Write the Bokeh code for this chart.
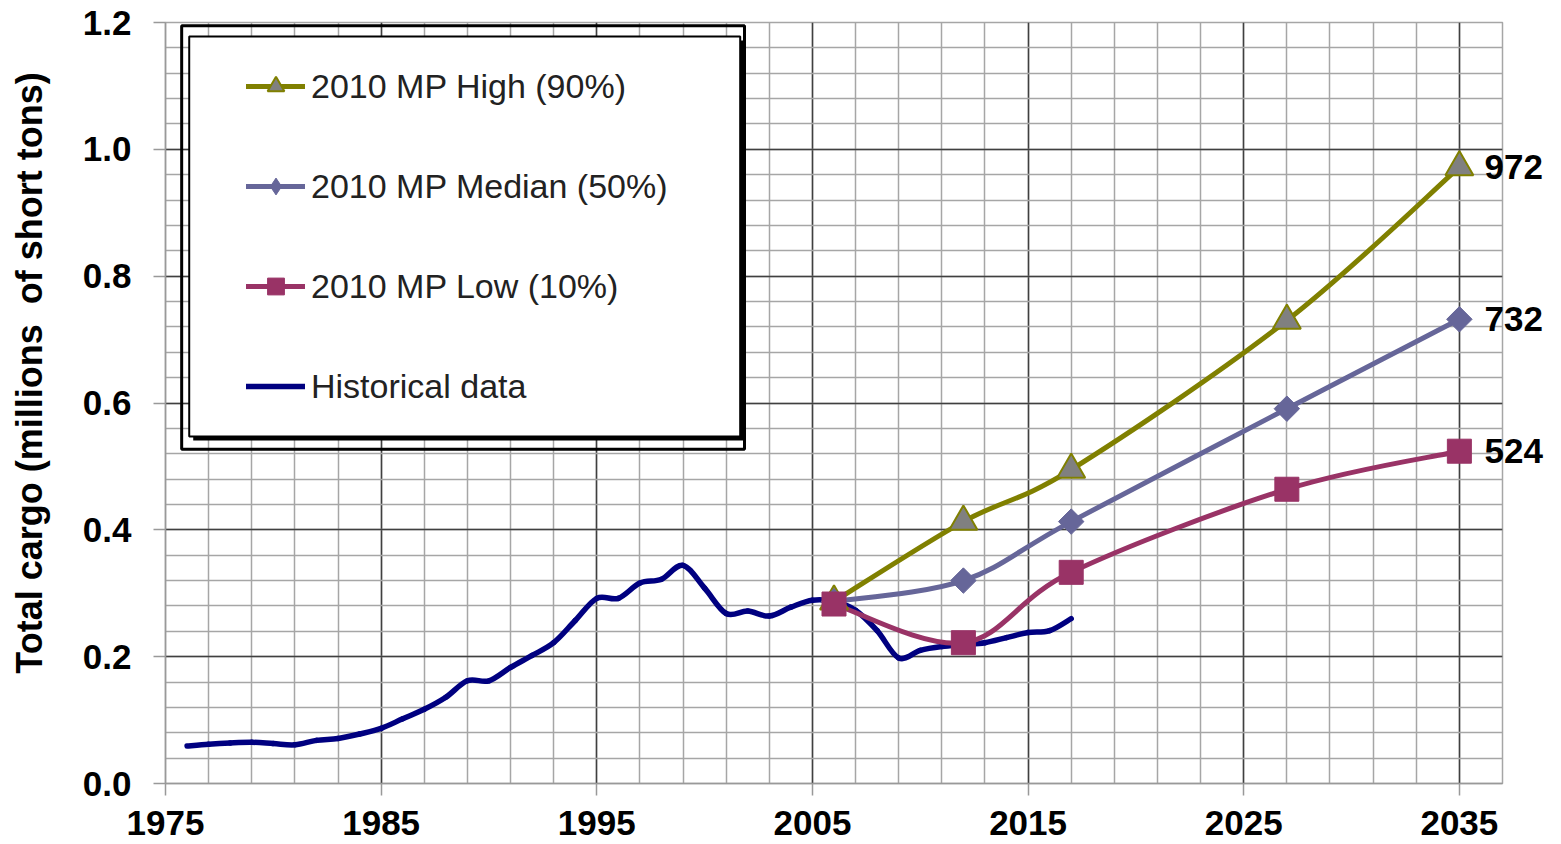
import numpy as np
from bokeh.plotting import figure
from bokeh.models import (Range1d, FixedTicker, NumeralTickFormatter, Legend,
                          LegendItem, BoxAnnotation, LinearAxis)
from bokeh.embed import file_html
from bokeh.resources import INLINE

# ---------------- data ----------------
hist_years = list(range(1976, 2018))
hist_values = [0.059, 0.062, 0.064, 0.065, 0.063, 0.061, 0.068, 0.071, 0.078, 0.087,
               0.102, 0.117, 0.136, 0.162, 0.162, 0.183, 0.202, 0.222, 0.257, 0.292,
               0.292, 0.316, 0.322, 0.344, 0.308, 0.268, 0.272, 0.264, 0.278, 0.289,
               0.287, 0.273, 0.241, 0.198, 0.210, 0.216, 0.219, 0.222, 0.230, 0.238,
               0.241, 0.260]
proj_years = [2006, 2012, 2017, 2027, 2035]
high_values = [0.287, 0.413, 0.495, 0.730, 0.972]
median_values = [0.287, 0.320, 0.413, 0.591, 0.732]
low_values = [0.283, 0.222, 0.333, 0.464, 0.524]

series_names = ["2010 MP High (90%)", "2010 MP Median (50%)", "2010 MP Low (10%)", "Historical data"]
x_major_ticks = [1975, 1985, 1995, 2005, 2015, 2025, 2035]
x_minor_ticks = list(range(1975, 2038, 2))
y_major_ticks = [0.0, 0.2, 0.4, 0.6, 0.8, 1.0, 1.2]
y_minor_ticks = [round(i * 0.04, 2) for i in range(31)]
y_title = "Total cargo (millions\u00a0 of short tons)"

FONT = "Liberation Sans"


def smooth_segments(xs, ys):
    """Catmull-Rom style cubic Bezier segments through the data points (Excel 'smoothed line')."""
    x = np.asarray(xs, float)
    y = np.asarray(ys, float)
    n = len(x)
    xp = np.concatenate([[x[0]], x, [x[-1]]])
    yp = np.concatenate([[y[0]], y, [y[-1]]])
    cx0 = xp[1:n] + (xp[2:n + 1] - xp[0:n - 1]) / 6
    cy0 = yp[1:n] + (yp[2:n + 1] - yp[0:n - 1]) / 6
    cx1 = xp[2:n + 1] - (xp[3:n + 2] - xp[1:n]) / 6
    cy1 = yp[2:n + 1] - (yp[3:n + 2] - yp[1:n]) / 6
    return dict(x0=x[:-1], y0=y[:-1], x1=x[1:], y1=y[1:], cx0=cx0, cy0=cy0, cx1=cx1, cy1=cy1)


p = figure(width=1545, height=844, x_range=Range1d(1975, 2037), y_range=Range1d(0, 1.2),
           output_backend="svg", toolbar_location=None,
           min_border_left=165, min_border_right=43, min_border_top=22, min_border_bottom=61)
p.background_fill_color = "white"
p.border_fill_color = "white"
p.outline_line_color = "#a6a6a6"
p.outline_line_width = 1.5

xt = FixedTicker(ticks=x_major_ticks, minor_ticks=x_minor_ticks)
yt = FixedTicker(ticks=y_major_ticks, minor_ticks=y_minor_ticks)
p.xaxis.ticker = xt
p.yaxis.ticker = yt
p.xgrid.ticker = xt
p.ygrid.ticker = yt
for g in (p.xgrid, p.ygrid):
    g.grid_line_color = "#404040"
    g.grid_line_width = 1.5
    g.minor_grid_line_color = "#a6a6a6"
    g.minor_grid_line_width = 1.5

p.yaxis.formatter = NumeralTickFormatter(format="0.0")
for ax in (p.xaxis, p.yaxis):
    ax.axis_line_color = "#999999"
    ax.axis_line_width = 1.5
    ax.major_tick_line_color = "#999999"
    ax.major_tick_line_width = 1.5
    ax.major_tick_in = 0
    ax.major_tick_out = 12
    ax.minor_tick_in = 0
    ax.minor_tick_out = 0
    ax.major_label_text_font = FONT
    ax.major_label_text_font_style = "bold"
    ax.major_label_text_color = "black"
p.xaxis.major_label_text_font_size = "35px"
p.yaxis.major_label_text_font_size = "35px"
p.xaxis.major_label_standoff = 15
p.yaxis.major_label_standoff = 22

# leading no-break spaces lift the centred title a little, as in the original
p.yaxis.axis_label = "\u00a0" * 6 + y_title
p.yaxis.axis_label_text_font = FONT
p.yaxis.axis_label_text_font_style = "bold"
p.yaxis.axis_label_text_font_size = "36px"
p.yaxis.axis_label_text_color = "black"
p.yaxis.axis_label_standoff = 30

# ---------------- series ----------------
HIGH_C, MED_C, LOW_C, HIST_C = "#808000", "#666699", "#993366", "#000080"

hist_r = p.bezier(source=smooth_segments(hist_years, hist_values), x0="x0", y0="y0", x1="x1", y1="y1",
                  cx0="cx0", cy0="cy0", cx1="cx1", cy1="cy1", line_color=HIST_C, line_width=5.5,
                  line_cap="round")

high_r = p.bezier(source=smooth_segments(proj_years, high_values), x0="x0", y0="y0", x1="x1", y1="y1",
                  cx0="cx0", cy0="cy0", cx1="cx1", cy1="cy1", line_color=HIGH_C, line_width=5,
                  line_cap="round")
med_r = p.bezier(source=smooth_segments(proj_years, median_values), x0="x0", y0="y0", x1="x1", y1="y1",
                 cx0="cx0", cy0="cy0", cx1="cx1", cy1="cy1", line_color=MED_C, line_width=5,
                 line_cap="round")
low_r = p.bezier(source=smooth_segments(proj_years, low_values), x0="x0", y0="y0", x1="x1", y1="y1",
                 cx0="cx0", cy0="cy0", cx1="cx1", cy1="cy1", line_color=LOW_C, line_width=5,
                 line_cap="round")

high_m = p.scatter(proj_years, high_values, marker="triangle", size=28, fill_color="#808080",
                   line_color=HIGH_C, line_width=2)
med_d = p.scatter(proj_years, median_values, marker="diamond", size=20,
                  fill_color=MED_C, line_color=MED_C, line_width=1)
med_m = p.scatter(proj_years, median_values, marker="square", size=18, angle=np.pi / 4,
                  fill_color=MED_C, line_color=MED_C, line_width=1)
low_m = p.scatter(proj_years, low_values, marker="square", size=24, fill_color=LOW_C,
                  line_color=LOW_C, line_width=1)

# end value labels on a right-hand axis
end_values = [high_values[-1], median_values[-1], low_values[-1]]
rax = LinearAxis(ticker=FixedTicker(ticks=end_values),
                 major_label_overrides={v: str(int(round(v * 1000))) for v in end_values})
rax.axis_line_color = None
rax.major_tick_in = 0
rax.major_tick_out = 0
rax.minor_tick_in = 0
rax.minor_tick_out = 0
rax.major_label_standoff = -18
rax.major_label_text_font = FONT
rax.major_label_text_font_style = "bold"
rax.major_label_text_font_size = "35px"
rax.major_label_text_color = "black"
p.add_layout(rax, "right")

# ---------------- legend box ----------------
px_x = (2037 - 1975) / 1337.0
px_y = 1.2 / 761.0
outer = BoxAnnotation(left=1975.75, right=2001.85, top=1.195, bottom=0.527,
                      fill_alpha=0, line_color="black", line_alpha=1, line_width=3)
shadow = BoxAnnotation(left=1976.1 + 4 * px_x, right=2001.65 + 4 * px_x,
                       top=1.178 - 4 * px_y, bottom=0.547 - 4 * px_y,
                       fill_color="black", fill_alpha=1, line_alpha=0)
inner = BoxAnnotation(left=1976.1, right=2001.65, top=1.178, bottom=0.547,
                      fill_color="white", fill_alpha=1, line_color="black", line_alpha=1,
                      line_width=2)
p.add_layout(outer)
p.add_layout(shadow)
p.add_layout(inner)

legend = Legend(items=[
    LegendItem(label=series_names[0], renderers=[high_r, high_m]),
    LegendItem(label=series_names[1], renderers=[med_r, med_d]),
    LegendItem(label=series_names[2], renderers=[low_r, low_m]),
    LegendItem(label=series_names[3], renderers=[hist_r]),
], location=(71, 366), orientation="vertical",
    label_text_font=FONT, label_text_font_size="34px", label_text_color="#222222",
    glyph_width=59, glyph_height=42, label_height=42, spacing=58, padding=10, margin=0,
    label_standoff=6, background_fill_alpha=0, border_line_alpha=0)
p.add_layout(legend, "center")

open("out.html", "w").write(file_html(p, INLINE))
